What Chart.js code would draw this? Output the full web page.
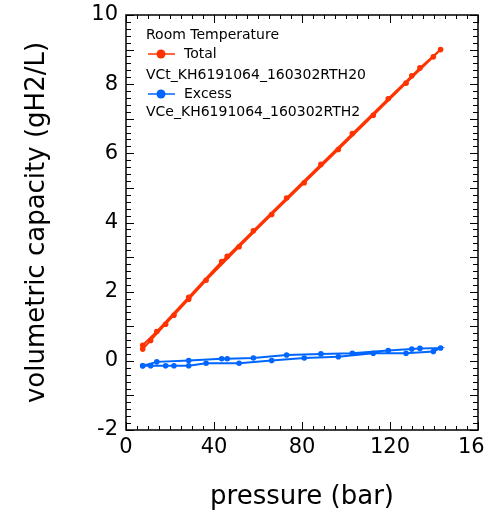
<!DOCTYPE html>
<html>
<head>
<meta charset="utf-8">
<script src="https://cdn.jsdelivr.net/npm/chart.js@4/dist/chart.umd.min.js"></script>
<style>
  html, body { margin: 0; padding: 0; background: #fff; overflow: hidden; }
  #wrap { width: 500px; height: 515px; position: relative; }
</style>
</head>
<body>
<div id="wrap"><canvas id="myChart"></canvas></div>
<script>
// pressure (bar): adsorption up, then desorption down
var pressure = [7.6, 11.2, 18.0, 21.8, 28.5, 36.4, 51.4, 66.2, 81.0, 96.5, 112.4, 127.3, 139.7, 143.0,
                133.6, 129.9, 119.2, 102.9, 88.6, 73.0, 57.9, 46.0, 43.5, 28.5, 14.0, 7.6];
// volumetric capacity (gH2/L)
var total = [0.34, 0.59, 1.06, 1.32, 1.78, 2.33, 3.30, 4.23, 5.15, 6.11, 7.10, 8.03, 8.79, 9.00,
             8.47, 8.24, 7.58, 6.57, 5.68, 4.71, 3.76, 3.02, 2.87, 1.84, 0.85, 0.45];
var excess = [-0.14, -0.14, -0.14, -0.14, -0.14, -0.07, -0.07, 0.01, 0.08, 0.12, 0.22, 0.22, 0.27, 0.37,
              0.36, 0.34, 0.30, 0.22, 0.20, 0.17, 0.08, 0.06, 0.06, 0.01, -0.03, -0.14];
var xTicks = [0, 40, 80, 120, 160];
var yTicks = [-2, 0, 2, 4, 6, 8, 10];

var RED = '#ff3300';
var BLUE = '#0066ff';
var FONT = "'DejaVu Sans', sans-serif";

function toPoints(xs, ys) {
    var pts = [];
    for (var i in xs) {
        pts.push({x: xs[i], y: ys[i]});
    }
    return pts;
}

// box with inward ticks on all four sides
var frameTicks = {
    id: 'frameTicks',
    afterDraw: function(chart) {
        var ctx = chart.ctx;
        var a = chart.chartArea;
        var xs = chart.scales.x, ys = chart.scales.y;
        ctx.save();
        ctx.strokeStyle = '#000';
        ctx.lineWidth = 1.5;
        ctx.strokeRect(a.left, a.top, a.right - a.left, a.bottom - a.top);
        ctx.lineWidth = 1;
        ctx.beginPath();
        for (var v = 0; v <= 160; v += 5) {
            var px = Math.round(xs.getPixelForValue(v)) + 0.5;
            var len = (v % 40 === 0) ? 8 : 4;
            ctx.moveTo(px, a.bottom); ctx.lineTo(px, a.bottom - len);
            ctx.moveTo(px, a.top); ctx.lineTo(px, a.top + len);
        }
        for (var k = -10; k <= 50; k++) {
            var val = k / 5;
            var py = Math.round(ys.getPixelForValue(val)) + 0.5;
            var l = (k % 5 === 0) ? 8 : 5;
            ctx.moveTo(a.left, py); ctx.lineTo(a.left + l, py);
            ctx.moveTo(a.right, py); ctx.lineTo(a.right - l, py);
        }
        ctx.stroke();
        ctx.restore();
    }
};

// legend block inside the plot
var boxLegend = {
    id: 'boxLegend',
    afterDraw: function(chart) {
        var ctx = chart.ctx;
        var a = chart.chartArea;
        var x0 = a.left + 20;
        ctx.save();
        ctx.font = '14px ' + FONT;
        ctx.fillStyle = '#000';
        ctx.textBaseline = 'middle';
        ctx.fillText('Room Temperature', x0, a.top + 20);
        ctx.fillText('Total', x0 + 38, a.top + 39);
        ctx.fillText('VCt_KH6191064_160302RTH20', x0, a.top + 60);
        ctx.fillText('Excess', x0 + 38, a.top + 79);
        ctx.fillText('VCe_KH6191064_160302RTH2', x0, a.top + 97);
        var rows = [[a.top + 39, RED], [a.top + 79, BLUE]];
        for (var i in rows) {
            ctx.strokeStyle = rows[i][1];
            ctx.fillStyle = rows[i][1];
            ctx.lineWidth = 1.5;
            ctx.beginPath();
            ctx.moveTo(x0 + 2, rows[i][0]); ctx.lineTo(x0 + 29, rows[i][0]);
            ctx.stroke();
            ctx.beginPath();
            ctx.arc(x0 + 15, rows[i][0], 4.5, 0, Math.PI * 2);
            ctx.fill();
        }
        ctx.restore();
    }
};

var ctx = document.getElementById('myChart');
var myChart = new Chart(ctx, {
    type: 'scatter',
    data: {
        datasets: [{
            label: 'Total',
            data: toPoints(pressure, total),
            showLine: true,
            borderColor: RED,
            backgroundColor: RED,
            borderWidth: 2,
            pointRadius: 2.8,
            pointBorderWidth: 0
        }, {
            label: 'Excess',
            data: toPoints(pressure, excess),
            showLine: true,
            borderColor: BLUE,
            backgroundColor: BLUE,
            borderWidth: 2,
            pointRadius: 2.8,
            pointBorderWidth: 0
        }]
    },
    options: {
        responsive: true,
        maintainAspectRatio: false,
        animation: false,
        layout: { padding: { top: 15, right: 22, left: 0, bottom: 0 } },
        plugins: {
            legend: { display: false },
            tooltip: { enabled: false }
        },
        scales: {
            x: {
                type: 'linear',
                min: 0, max: 160,
                afterBuildTicks: function(s) { s.ticks = xTicks.map(function(v) { return {value: v}; }); },
                afterFit: function(s) {
                    s.height = 85;
                    s.paddingLeft = 0; s.paddingRight = 0;
                },
                grid: { display: false, drawTicks: false },
                border: { display: false },
                ticks: { color: '#000', padding: 5, maxRotation: 0, font: { family: FONT, size: 21 } },
                title: { display: true, text: 'pressure (bar)', color: '#000',
                         font: { family: FONT, size: 26 }, padding: { top: 0, bottom: 2 } }
            },
            y: {
                type: 'linear',
                min: -2, max: 10,
                afterBuildTicks: function(s) { s.ticks = yTicks.map(function(v) { return {value: v}; }); },
                afterFit: function(s) {
                    s.width = 126;
                    s.paddingTop = 0; s.paddingBottom = 0;
                },
                grid: { display: false, drawTicks: false },
                border: { display: false },
                ticks: { color: '#000', padding: 8, font: { family: FONT, size: 21 } },
                title: { display: true, text: 'volumetric capacity (gH2/L)', color: '#000',
                         font: { family: FONT, size: 26 }, padding: { top: 22, bottom: 0 } }
            }
        }
    },
    plugins: [frameTicks, boxLegend]
}); // myChart
</script>
</body>
</html>
